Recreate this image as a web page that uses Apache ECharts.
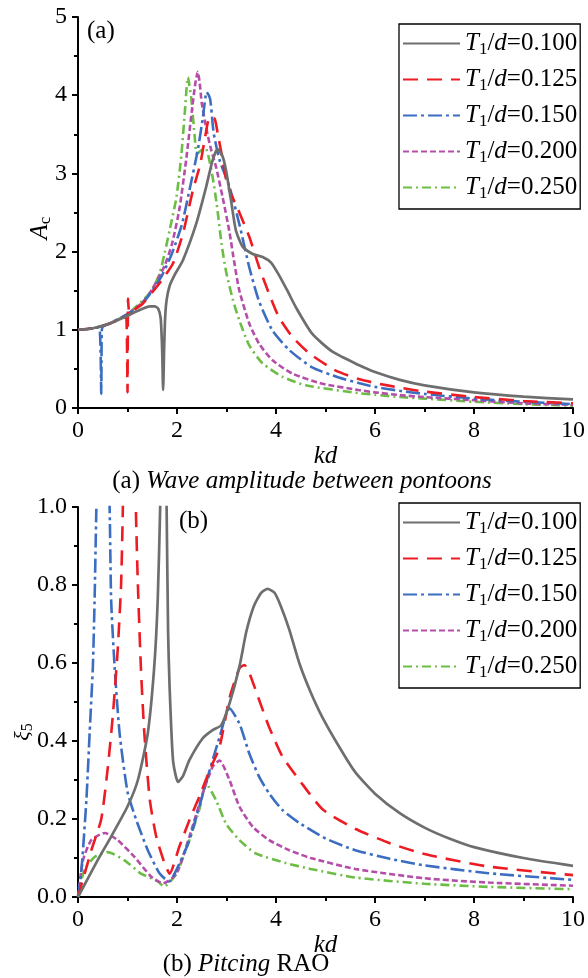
<!DOCTYPE html>
<html><head><meta charset="utf-8">
<script src="https://cdn.jsdelivr.net/npm/echarts@6/dist/echarts.min.js"></script>
<style>html,body{margin:0;padding:0;background:#fff}#c{width:588px;height:978px}</style>
</head><body><div id="c"></div>
<script>
// ---- Data ----
const seriesNames = ['T1/d=0.100','T1/d=0.125','T1/d=0.150','T1/d=0.200','T1/d=0.250'];
const xTicks = [0,2,4,6,8,10];
const yTicksA = [0,1,2,3,4,5];
const yTicksB = [0.0,0.2,0.4,0.6,0.8,1.0];

// (a) wave amplitude A_c
const kdA100 = [0,0.3,0.6,0.9,1.2,1.45,1.55,1.62,1.67,1.70,1.72,1.74,1.76,1.79,1.85,1.95,2.12,2.39,2.59,2.72,2.82,2.92,2.99,3.09,3.19,3.33,3.53,3.73,3.9,4.06,4.23,4.4,4.73,5.14,5.67,6,6.5,7,8,9,10];
const Ac100  = [1.0,1.02,1.07,1.15,1.24,1.30,1.30,1.27,1.15,0.75,0.23,0.75,1.15,1.38,1.56,1.70,1.89,2.36,2.83,3.17,3.31,3.22,3.04,2.66,2.27,2.06,1.97,1.93,1.86,1.70,1.50,1.29,0.95,0.72,0.55,0.46,0.36,0.29,0.20,0.145,0.11];
const kdA125 = [0,0.3,0.6,0.9,0.97,0.99,1.0,1.005,1.01,1.02,1.04,1.1,1.3,1.5,1.7,1.92,2.12,2.32,2.47,2.57,2.66,2.76,2.82,2.9,3.02,3.26,3.46,3.66,3.86,4.06,4.33,4.67,5.2,5.67,6,6.5,7,8,9,10];
const Ac125  = [1.0,1.02,1.07,1.15,1.17,0.8,0.2,0.8,1.40,1.30,1.22,1.24,1.33,1.48,1.64,1.85,2.23,2.78,3.12,3.47,3.72,3.70,3.52,3.25,2.85,2.50,2.19,1.80,1.46,1.16,0.91,0.70,0.48,0.37,0.32,0.26,0.21,0.14,0.09,0.06];
const kdA150 = [0,0.2,0.4,0.44,0.46,0.47,0.475,0.48,0.5,0.7,1.0,1.3,1.5,1.7,1.9,2.1,2.25,2.42,2.52,2.6,2.67,2.74,2.86,3.06,3.26,3.46,3.66,3.93,4.27,4.73,5.27,5.67,6,6.5,7,8,9,10];
const Ac150  = [1.0,1.01,1.03,1.0,0.6,0.18,0.6,0.98,1.04,1.1,1.2,1.34,1.5,1.70,1.98,2.35,2.78,3.3,3.7,4.04,3.95,3.52,3.17,2.83,2.35,1.80,1.36,0.99,0.74,0.52,0.39,0.32,0.27,0.22,0.18,0.12,0.08,0.05];
const kdA200 = [0,0.3,0.6,1.0,1.3,1.5,1.75,1.9,2.05,2.19,2.3,2.37,2.42,2.46,2.5,2.6,2.69,2.79,2.92,3.06,3.16,3.26,3.46,3.66,3.93,4.33,4.94,5.67,6,6.5,7,8,9,10];
const Ac200  = [1.0,1.02,1.07,1.2,1.35,1.52,1.82,2.1,2.55,3.2,3.8,4.15,4.3,4.15,3.9,3.55,3.3,3.08,2.70,2.25,1.85,1.50,1.08,0.82,0.61,0.44,0.31,0.23,0.20,0.165,0.14,0.10,0.06,0.04];
const kdA250 = [0,0.3,0.6,1.0,1.25,1.45,1.55,1.65,1.75,1.85,1.99,2.09,2.16,2.22,2.29,2.36,2.4,2.5,2.58,2.66,2.72,2.8,2.9,2.99,3.13,3.26,3.46,3.73,4.13,4.6,5.67,6,6.5,7,8,9,10];
const Ac250  = [1.0,1.02,1.07,1.2,1.34,1.47,1.58,1.72,1.98,2.27,2.70,3.25,3.8,4.23,3.95,3.45,3.25,3.3,3.32,3.15,2.95,2.62,2.1,1.75,1.38,1.12,0.80,0.57,0.40,0.29,0.19,0.17,0.14,0.12,0.08,0.05,0.03];

// (b) pitching RAO xi_5
const kdB100 = [0,0.4,0.67,1.0,1.21,1.41,1.54,1.61,1.66,1.71,1.75,1.79,1.82,1.85,1.92,2.02,2.12,2.25,2.52,2.72,2.89,3.06,3.26,3.4,3.55,3.7,3.83,3.97,4.1,4.27,4.47,4.7,4.94,5.3,5.6,6,6.5,7,7.5,8,9,10];
const xi100  = [0,0.095,0.155,0.232,0.30,0.42,0.59,0.76,1.0,1.4,1.4,1.0,0.68,0.54,0.35,0.295,0.31,0.351,0.407,0.428,0.44,0.496,0.59,0.68,0.745,0.78,0.79,0.78,0.745,0.685,0.60,0.525,0.46,0.38,0.32,0.265,0.215,0.178,0.15,0.128,0.10,0.08];
const kdB125 = [0,0.27,0.47,0.6,0.7,0.8,0.87,0.905,0.95,1.0,1.12,1.17,1.21,1.27,1.34,1.45,1.58,1.75,1.85,2.05,2.25,2.45,2.66,2.86,3.06,3.26,3.36,3.46,3.66,3.86,4.13,4.47,4.94,5.6,6.3,7,8.3,10];
const xi125  = [0,0.12,0.20,0.33,0.46,0.63,0.80,0.99,1.4,1.4,1.4,0.99,0.80,0.59,0.42,0.25,0.155,0.086,0.06,0.13,0.197,0.257,0.325,0.385,0.51,0.586,0.595,0.575,0.505,0.436,0.36,0.30,0.225,0.175,0.138,0.11,0.078,0.056];
const kdB150 = [0,0.07,0.17,0.235,0.30,0.335,0.37,0.45,0.55,0.64,0.67,0.74,0.84,1.0,1.17,1.41,1.65,1.84,2.05,2.25,2.45,2.66,2.86,3.06,3.26,3.46,3.66,3.86,4.13,4.47,5.0,5.6,6.3,6.95,8.29,10];
const xi150  = [0,0.07,0.25,0.42,0.59,0.76,0.99,1.4,1.4,0.99,0.76,0.59,0.42,0.27,0.20,0.12,0.06,0.04,0.086,0.146,0.232,0.325,0.41,0.484,0.445,0.368,0.308,0.266,0.223,0.19,0.15,0.12,0.098,0.082,0.061,0.044];
const kdB200 = [0,0.1,0.27,0.54,0.8,1.14,1.48,1.72,1.99,2.25,2.52,2.72,2.86,3.06,3.26,3.53,3.86,4.27,4.7,5.6,7,8.29,10];
const xi200  = [0,0.094,0.146,0.164,0.146,0.103,0.052,0.035,0.06,0.155,0.266,0.334,0.35,0.30,0.232,0.18,0.146,0.12,0.10,0.072,0.048,0.037,0.029];
const kdB250 = [0,0.13,0.34,0.6,0.94,1.27,1.45,1.61,1.74,1.99,2.25,2.45,2.59,2.79,2.99,3.26,3.59,4.2,4.7,5.6,7,8.29,10];
const xi250  = [0,0.07,0.103,0.115,0.094,0.06,0.05,0.04,0.027,0.06,0.146,0.224,0.29,0.248,0.188,0.146,0.112,0.087,0.072,0.05,0.034,0.026,0.02];

// ---- Styles ----
const FONT = 'Liberation Serif';
const colors = ['#6e6e6e','#ed1c24','#3b6dc1','#b54ea8','#6cbd45'];
const dashes = ['solid',[15,9],[14,4,3,4],[6,3],[9,4,2,4]];
const widths = [2.7,2.6,2.6,2.6,2.6];

const pairs = (xs, ys) => xs.map((x,i)=>[x, ys[i]]);
const dataA = [pairs(kdA100,Ac100),pairs(kdA125,Ac125),pairs(kdA150,Ac150),pairs(kdA200,Ac200),pairs(kdA250,Ac250)];
const dataB = [pairs(kdB100,xi100),pairs(kdB125,xi125),pairs(kdB150,xi150),pairs(kdB200,xi200),pairs(kdB250,xi250)];

const legRich = {
  i:{fontFamily:FONT,fontStyle:'italic',fontSize:25,lineHeight:26,color:'#000',verticalAlign:'middle'},
  n:{fontFamily:FONT,fontSize:25,lineHeight:26,color:'#000',verticalAlign:'middle'},
  s:{fontFamily:FONT,fontSize:17,lineHeight:14,color:'#000',verticalAlign:'middle',padding:[12,0,0,0]}
};
const legFmt = name => '{i|T}{s|1}{n|/}{i|d}{n|=' + name.split('=')[1] + '}';

function mkLegend(top){
  return {orient:'vertical', left:399, top:top, itemWidth:57, itemHeight:14, itemGap:7,
    padding:[5,3,7,3], borderColor:'#000', borderWidth:1.3, backgroundColor:'#fff',
    itemStyle:{opacity:0}, data:seriesNames, formatter:legFmt, textStyle:{rich:legRich}, selectedMode:false};
}

function mkX(gi, gap){
  return {type:'value', gridIndex:gi, min:0, max:10, interval:2,
    name:'kd', nameLocation:'middle', nameGap:gap,
    nameTextStyle:{fontFamily:FONT,fontStyle:'italic',fontSize:25,color:'#000'},
    axisLine:{lineStyle:{color:'#000',width:2}},
    axisTick:{inside:false,length:6,lineStyle:{color:'#000',width:2}},
    minorTick:{show:true,splitNumber:2,length:4,lineStyle:{color:'#000',width:2}},
    splitLine:{show:false},
    axisLabel:{fontFamily:FONT,fontSize:24,color:'#000',margin:11, formatter: v => String(v)}};
}
function mkY(gi, max, interval, fmt){
  return {type:'value', gridIndex:gi, min:0, max:max, interval:interval,
    axisLine:{show:true,lineStyle:{color:'#000',width:2}},
    axisTick:{show:true,inside:false,length:6,lineStyle:{color:'#000',width:2}},
    minorTick:{show:true,splitNumber:2,length:4,lineStyle:{color:'#000',width:2}},
    splitLine:{show:false},
    axisLabel:{fontFamily:FONT,fontSize:24,color:'#000',margin:11,formatter:fmt}};
}

const series = [];
[dataA, dataB].forEach((ds, gi) => {
  ds.forEach((d, k) => {
    series.push({type:'line', name:seriesNames[k], xAxisIndex:gi, yAxisIndex:gi,
      data:d, symbol:'none', smooth:0.2, clip:true, z: 10-k,
      lineStyle:{color:colors[k], width:widths[k], type:dashes[k]},
      itemStyle:{color:colors[k]}});
  });
});

const chart = echarts.init(document.getElementById('c'), null, {renderer:'canvas'});
chart.setOption({
  animation:false,
  backgroundColor:'#fff',
  grid:[{left:78, top:17, width:498, height:391},
        {left:78, top:507, width:498, height:390}],
  xAxis:[mkX(0,34), mkX(1,28)],
  yAxis:[mkY(0,5,1, v=>String(v)), mkY(1,1.0,0.2, v=>v.toFixed(1))],
  legend:[mkLegend(24), mkLegend(503)],
  series:series,
  graphic:[
    {type:'text', left:87, top:19, style:{text:'(a)', font:'25px "Liberation Serif"', fill:'#000'}},
    {type:'text', left:179, top:509, style:{text:'(b)', font:'25px "Liberation Serif"', fill:'#000'}},
    {type:'text', x:40, y:228, rotation:Math.PI/2,
      style:{text:'{i|A}{s|c}', align:'center', verticalAlign:'middle',
        rich:{i:{fontFamily:FONT,fontStyle:'italic',fontSize:25,lineHeight:26,fill:'#000',verticalAlign:'middle'},
              s:{fontFamily:FONT,fontSize:17,lineHeight:14,fill:'#000',verticalAlign:'middle',padding:[12,0,0,0]}}}},
    {type:'text', x:23, y:732, rotation:Math.PI/2,
      style:{text:'{i|ξ}{s|5}', align:'center', verticalAlign:'middle',
        rich:{i:{fontFamily:FONT,fontStyle:'italic',fontSize:22,lineHeight:24,fill:'#000',verticalAlign:'middle'},
              s:{fontFamily:FONT,fontSize:16,lineHeight:14,fill:'#000',verticalAlign:'middle',padding:[10,0,0,0]}}}},
    {type:'text', x:302, y:481,
      style:{text:'{n|(a) }{i|Wave amplitude between pontoons}', align:'center', verticalAlign:'middle',
        rich:{n:{fontFamily:FONT,fontSize:25,fill:'#000'}, i:{fontFamily:FONT,fontStyle:'italic',fontSize:25,fill:'#000'}}}},
    {type:'text', x:246, y:964,
      style:{text:'{n|(b) }{i|Pitcing}{n| RAO}', align:'center', verticalAlign:'middle',
        rich:{n:{fontFamily:FONT,fontSize:25,fill:'#000'}, i:{fontFamily:FONT,fontStyle:'italic',fontSize:25,fill:'#000'}}}}
  ]
});
</script></body></html>
